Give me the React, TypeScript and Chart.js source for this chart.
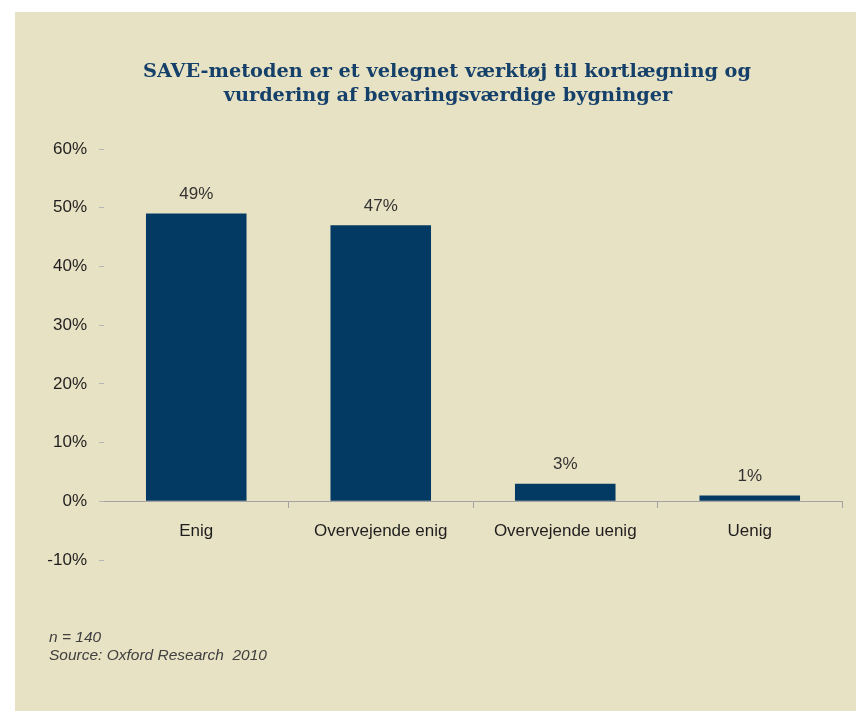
import React, { useEffect, useRef } from "react";
import { Chart, registerables } from "chart.js";

Chart.register(...registerables);

const categories = ["Enig", "Overvejende enig", "Overvejende uenig", "Uenig"];
const values = [49, 47, 3, 1];
const valueLabels = ["49%", "47%", "3%", "1%"];
const titleLines = [
  "SAVE-metoden er et velegnet værktøj til kortlægning og",
  "vurdering af bevaringsværdige bygninger",
];
const footnotes = ["n = 140", "Source: Oxford Research  2010"];
const yMin = -10;
const yMax = 60;
const yStep = 10;

const BG = "#E8E2C4";
const BAR = "#023A63";
const TITLE = "#15406A";
const SANS = "'Liberation Sans', Arial, sans-serif";

export default function App() {
  const ref = useRef<HTMLCanvasElement | null>(null);

  useEffect(() => {
    if (!ref.current) return;
    const textPlugin = {
      id: "texts",
      afterDatasetsDraw(chart: any) {
        const ctx = chart.ctx;
        const meta = chart.getDatasetMeta(0);
        ctx.save();
        ctx.fillStyle = "#333333";
        ctx.font = `17px ${SANS}`;
        ctx.textAlign = "center";
        ctx.textBaseline = "middle";
        meta.data.forEach((el: any, i: number) => {
          ctx.fillText(valueLabels[i], el.x, el.y - 19);
        });
        ctx.restore();
      },
      afterDraw(chart: any) {
        const ctx = chart.ctx;
        ctx.save();
        ctx.fillStyle = TITLE;
        ctx.font = `bold 19.3px 'DejaVu Serif', serif`;
        ctx.textAlign = "center";
        ctx.textBaseline = "alphabetic";
        ctx.fillText(titleLines[0], 432, 65);
        ctx.fillText(titleLines[1], 433, 89);
        ctx.fillStyle = "#404040";
        ctx.font = `italic 15.5px ${SANS}`;
        ctx.textAlign = "left";
        ctx.fillText(footnotes[0], 34, 630);
        ctx.fillText(footnotes[1], 34, 648);
        ctx.restore();
      },
    };

    const chart = new Chart(ref.current, {
      type: "bar",
      data: {
        labels: categories,
        datasets: [
          {
            data: values,
            backgroundColor: BAR,
            borderWidth: 0,
            categoryPercentage: 1,
            barPercentage: 0.545,
          },
        ],
      },
      options: {
        animation: false,
        responsive: false,
        layout: { padding: { left: 31, right: 14, top: 137, bottom: 151 } },
        plugins: {
          legend: { display: false },
          title: { display: false },
          tooltip: { enabled: false },
        },
        scales: {
          x: {
            position: { y: 0 } as any,
            grid: {
              display: true,
              drawOnChartArea: false,
              drawTicks: true,
              tickLength: 6,
              offset: true,
              color: (c: any) => (c.index === 0 ? "rgba(0,0,0,0)" : "#A3A3A3"),
            },
            border: { display: true, color: "#A3A3A3", width: 1 },
            ticks: {
              color: "#1E1E1E",
              font: { family: SANS, size: 17 },
              padding: 14,
              maxRotation: 0,
              autoSkip: false,
            },
          },
          y: {
            min: yMin,
            max: yMax,
            afterFit: (scale: any) => {
              scale.width = 58;
            },
            grid: {
              display: true,
              drawOnChartArea: false,
              drawTicks: true,
              tickLength: 5,
              color: "#B5B5B5",
            },
            border: { display: false },
            ticks: {
              stepSize: yStep,
              color: "#1E1E1E",
              font: { family: SANS, size: 17 },
              padding: 12,
              callback: (v: any) => `${v}%`,
            },
          },
        },
      },
      plugins: [textPlugin],
    });
    return () => chart.destroy();
  }, []);

  return (
    <div
      style={{
        position: "absolute",
        left: 15,
        top: 12,
        width: 841,
        height: 699,
        background: BG,
      }}
    >
      <canvas ref={ref} width={841} height={699} style={{ width: 841, height: 699, display: "block" }} />
    </div>
  );
}
